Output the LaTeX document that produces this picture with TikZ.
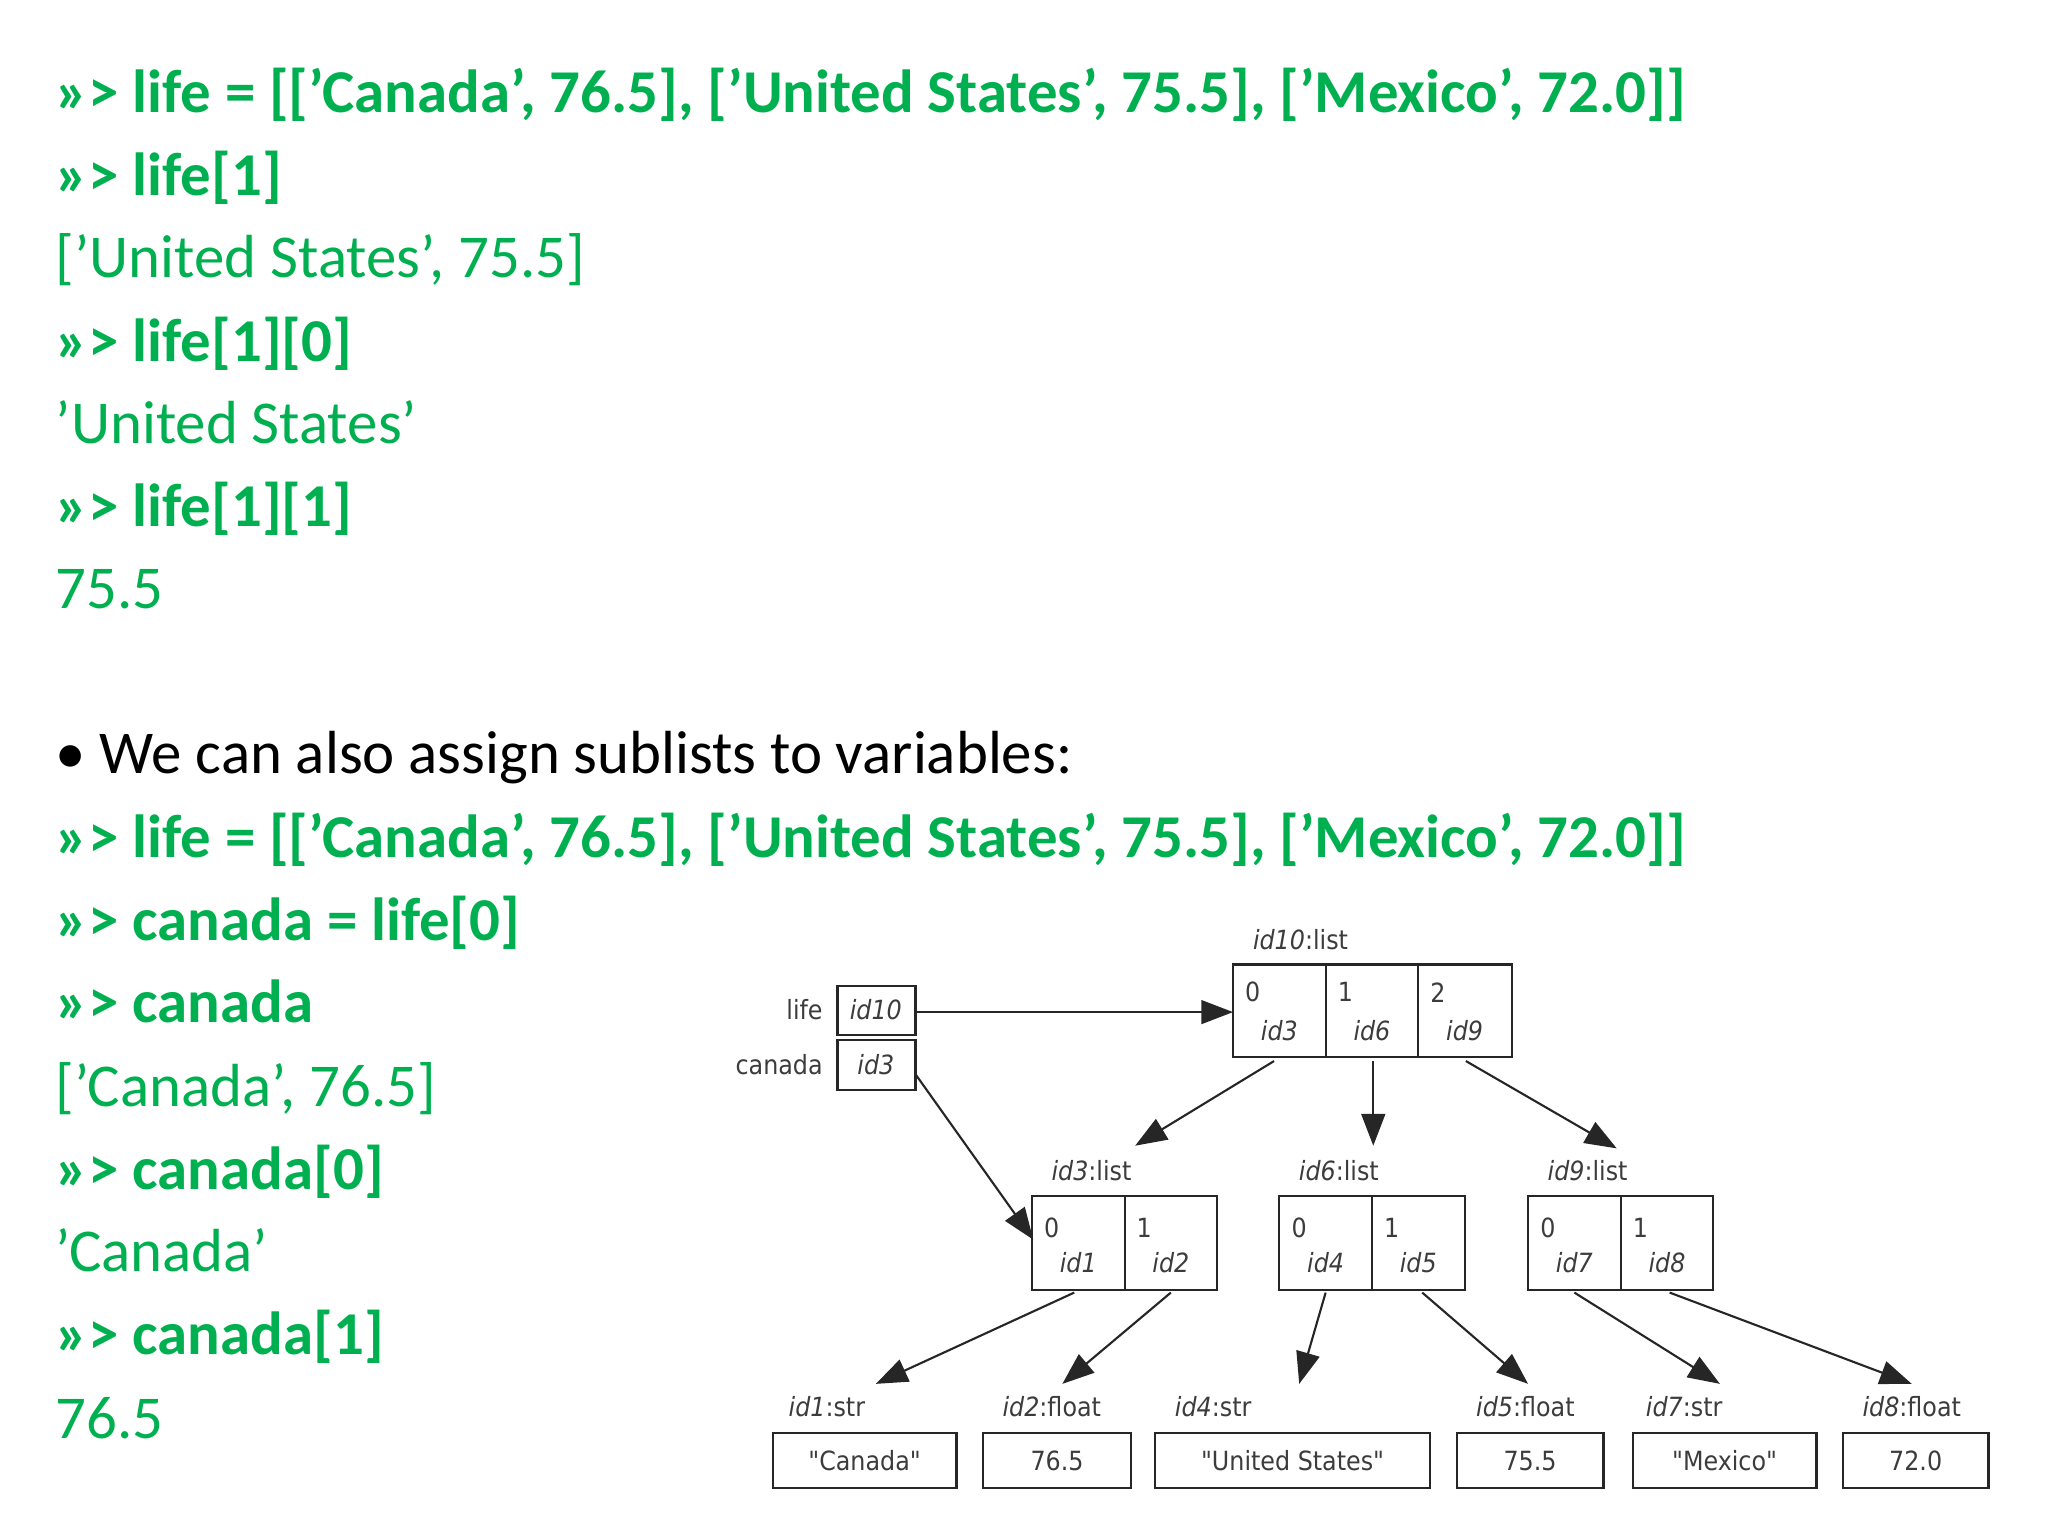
\documentclass[tikz,border=0pt]{standalone}
\usepackage{fontspec}
\setmainfont{Carlito}
\newfontfamily\djfont{DejaVu Sans Condensed}
\usetikzlibrary{arrows.meta}
\definecolor{pgreen}{RGB}{0,176,80}
\definecolor{dgray}{RGB}{60,60,60}
\tikzset{
 cmdtxt/.style={anchor=base west,inner sep=0,text=pgreen,font=\fontsize{46}{50}\selectfont\bfseries},
 outtxt/.style={anchor=base west,inner sep=0,text=pgreen,font=\fontsize{46}{50}\selectfont},
 box/.style={draw=black!85,line width=1.6pt},
 lbl/.style={inner sep=0,text=dgray,font=\djfont\fontsize{20}{22}\selectfont},
 arr/.style={draw=black!85,line width=1.6pt,-{Triangle[length=24pt,width=18pt]}},
}
\newcommand{\ii}[1]{\textit{#1}}
\begin{document}
\begin{tikzpicture}[x=1pt,y=-1pt]
\useasboundingbox (0,0) rectangle (1548,1161);
\node[cmdtxt] (c1) at (42,85) {>>> life = [['Canada', 76.5], ['United States', 75.5], ['Mexico', 72.0]]};
\node[cmdtxt] (c2) at (42,148) {>>> life[1]};
\node[outtxt] (o1) at (42,210) {['United States', 75.5]};
\node[cmdtxt] (c3) at (42,273) {>>> life[1][0]};
\node[outtxt] (o2) at (42,335) {'United States'};
\node[cmdtxt] (c4) at (42,398) {>>> life[1][1]};
\node[outtxt] (o3) at (42,460) {75.5};
\node[outtxt,text=black] (b1) at (42,585) {\textbullet{} We can also assign sublists to variables:};
\node[cmdtxt] (c5) at (42,648) {>>> life = [['Canada', 76.5], ['United States', 75.5], ['Mexico', 72.0]]};
\node[cmdtxt] (c6) at (42,711) {>>> canada = life[0]};
\node[cmdtxt] (c7) at (42,773) {>>> canada};
\node[outtxt] (o4) at (42,836) {['Canada', 76.5]};
\node[cmdtxt] (c8) at (42,899) {>>> canada[0]};
\node[outtxt] (o5) at (42,961) {'Canada'};
\node[cmdtxt] (c9) at (42,1024) {>>> canada[1]};
\node[outtxt] (o6) at (42,1087) {76.5};
% variables
\draw[box] (633,745) rectangle (692,782); \draw[box] (633,786) rectangle (692,824);
\node[lbl,anchor=east] (lv) at (622,763) {life};
\node[lbl,anchor=east] (cv) at (622,805) {canada};
\node[lbl] (v1) at (662,763) {\ii{id10}};
\node[lbl] (v2) at (662,805) {\ii{id3}};
\coordinate (lifeo) at (692,765); \coordinate (canao) at (692,812);
% id10 list
\draw[box] (932,729) rectangle (1143,799); \draw[box] (1002,729)--(1002,799) (1072,729)--(1072,799);
\node[lbl] (t10) at (983,710) {\ii{id10}:list};
\foreach \x/\i/\d in {932/0/id3,1002/1/id6,1072/2/id9}{
 \node[lbl,anchor=west] at (\x+9,750) {\i};
 \node[lbl] at (\x+35,779) {\ii{\d}};}
\coordinate (L10) at (932,765);
% sublists
\foreach \x/\n/\a/\b in {780/id3/id1/id2,967/id6/id4/id5,1155/id9/id7/id8}{
 \draw[box] (\x,904) rectangle (\x+140,975); \draw[box] (\x+70,904)--(\x+70,975);
 \node[lbl] at (\x+45,885) {\ii{\n}:list};
 \node[lbl,anchor=west] at (\x+9,928) {0};
 \node[lbl,anchor=west] at (\x+79,928) {1};
 \node[lbl] at (\x+35,954) {\ii{\a}};
 \node[lbl] at (\x+105,954) {\ii{\b}};}
% bottom values
\foreach \l/\r/\t/\lab/\lx in {584/723/"Canada"/{\ii{id1}:str}/625, 743/855/76.5/{\ii{id2}:float}/795, 873/1081/"United States"/{\ii{id4}:str}/917, 1101/1212/75.5/{\ii{id5}:float}/1153, 1234/1373/"Mexico"/{\ii{id7}:str}/1273, 1393/1503/72.0/{\ii{id8}:float}/1445}{
 \draw[box] (\l,1083) rectangle (\r,1125);
 \node[lbl] at ({(\l+\r)/2},1104) {\t};
 \node[lbl] at (\lx,1063) {\lab};}
% arrows
\draw[arr] (lifeo) -- (L10);
\draw[arr] (canao) -- (781,937);
\draw[arr] (963,802) -- (858,866);
\draw[arr] (1038,802) -- (1038,866);
\draw[arr] (1108,802) -- (1222,868);
\draw[arr] (812,977) -- (662,1046);
\draw[arr] (885,977) -- (803,1046);
\draw[arr] (1002,977) -- (982,1046);
\draw[arr] (1075,977) -- (1155,1046);
\draw[arr] (1190,977) -- (1300,1046);
\draw[arr] (1262,977) -- (1445,1046);
\end{tikzpicture}
\end{document}
